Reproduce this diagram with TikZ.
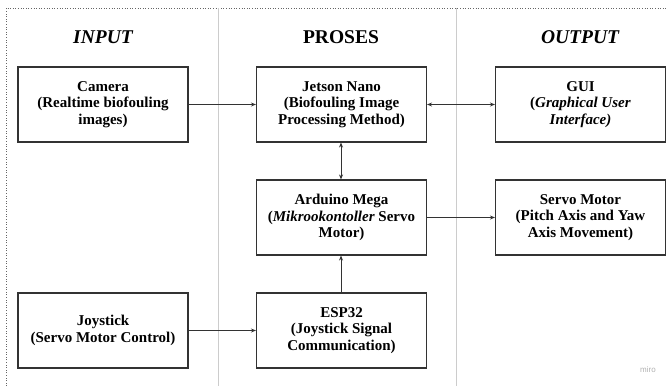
\documentclass[tikz,border=0pt]{standalone}
\usepackage{fontspec}
\setmainfont{Liberation Serif}
\newfontfamily\wmfont{Liberation Sans}
\usetikzlibrary{arrows.meta}
\begin{document}
\begin{tikzpicture}[x=1pt,y=-1pt,
  blk/.style={draw=black!80,line width=1.1pt,minimum width=170pt,minimum height=75pt,
    align=center,font=\fontsize{15}{16.5}\selectfont\bfseries,inner sep=1pt},
  hdr/.style={font=\fontsize{19.5}{21}\selectfont\bfseries},
  conn/.style={draw=black!80,line width=0.8pt,-{Stealth[length=5pt,width=4pt]}},
  biconn/.style={draw=black!80,line width=0.8pt,{Stealth[length=5pt,width=4pt]}-{Stealth[length=5pt,width=4pt]}},
  divider/.style={draw=black!20,line width=1pt},
  frame/.style={draw=black!60,line width=0.6pt,dotted}]
\useasboundingbox (0,0) rectangle (668,386);
\fill[white] (0,0) rectangle (668,386);
% frame
\coordinate (fl) at (6,386);
\coordinate (ftl) at (6,8);
\coordinate (ftr) at (668,8);
\draw[frame] (fl) -- (ftl) -- (ftr);
% dividers
\coordinate (d1t) at (218,8); \coordinate (d1b) at (218,386);
\coordinate (d2t) at (456,8); \coordinate (d2b) at (456,386);
\draw[divider] (d1t) -- (d1b);
\draw[divider] (d2t) -- (d2b);
% headers
\node[hdr] (hin) at (103,37) {\itshape INPUT};
\node[hdr] (hpr) at (341,37) {PROSES};
\node[hdr] (hout) at (580,37) {\itshape OUTPUT};
% boxes
\node[blk] (cam) at (103,104.5) {Camera\\(Realtime biofouling\\images)};
\node[blk] (jet) at (341.5,104.5) {Jetson Nano\\(Biofouling Image\\Processing Method)};
\node[blk] (gui) at (580.5,104.5) {GUI\\(\textit{Graphical User}\\\textit{Interface)}};
\node[blk] (ard) at (341.5,217.5) {Arduino Mega\\(\textit{Mikrookontoller} Servo\\Motor)};
\node[blk] (srv) at (580.5,217.5) {Servo Motor\\(Pitch Axis and Yaw\\Axis Movement)};
\node[blk] (joy) at (103,330.5) {Joystick\\(Servo Motor Control)};
\node[blk] (esp) at (341.5,330.5) {ESP32\\(Joystick Signal\\Communication)};
% connectors
\draw[conn] (cam.east) -- (jet.west);
\draw[biconn] (jet.east) -- (gui.west);
\draw[biconn] (jet.south -| 341,0) -- (ard.north -| 341,0);
\draw[conn] (ard.east) -- (srv.west);
\draw[conn] (esp.north -| 341,0) -- (ard.south -| 341,0);
\draw[conn] (joy.east) -- (esp.west);
% watermark
\node[font=\wmfont\fontsize{8}{9}\selectfont,text=black!30] (wm) at (648,370) {miro};
\end{tikzpicture}
\end{document}
